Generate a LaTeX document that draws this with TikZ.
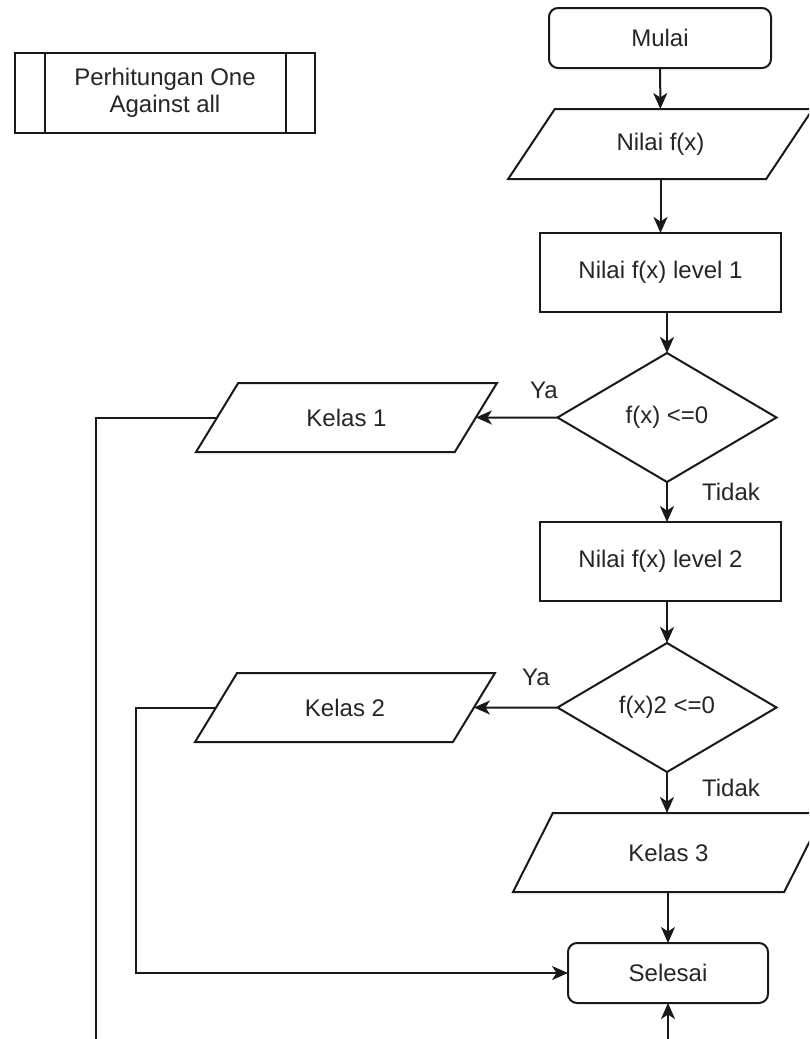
\documentclass[tikz,border=0pt]{standalone}
\usepackage{fontspec}
\setmainfont{Liberation Sans}
\usetikzlibrary{shapes.geometric,arrows.meta}
\begin{document}
\begin{tikzpicture}[x=1pt,y=-1pt,
  base/.style={draw=black!90, line width=2pt, font=\fontsize{24}{27}\selectfont,
    text=black!85, inner sep=0pt, outer sep=0pt},
  terminal/.style={base, rectangle, rounded corners=9pt, minimum height=60pt},
  procbox/.style={base, rectangle, minimum width=241pt, minimum height=79pt},
  iobox/.style={base, trapezium, trapezium stretches=true,
    trapezium left angle=#1, trapezium right angle=180-#1},
  decision/.style={base, diamond, aspect=1.7, minimum width=219pt, minimum height=129pt},
  flow/.style={draw=black!90, line width=2pt, -{Stealth[length=16pt,width=14pt,inset=4.5pt]}},
  link/.style={draw=black!90, line width=2pt},
  lbl/.style={font=\fontsize{24}{27}\selectfont, text=black!85, inner sep=0pt}
]
\useasboundingbox (0,0) rectangle (809,1039);
\fill[white] (0,0) rectangle (809,1039);
\clip (0,0) rectangle (809,1039);

% predefined process
\node[base, rectangle, minimum width=300pt, minimum height=80pt, align=center] (pp) at (165,93)
  {Perhitungan One\\Against all};
\draw[link] ([xshift=30pt]pp.north west) -- ([xshift=30pt]pp.south west);
\draw[link] ([xshift=-29pt]pp.north east) -- ([xshift=-29pt]pp.south east);

% main flow
\node[terminal, minimum width=222pt] (mulai) at (660,38) {Mulai};
\node[iobox=49, minimum width=305pt, minimum height=70pt] (nilai) at (660.5,144) {Nilai f(x)};
\node[procbox] (l1) at (660.5,272.5) {Nilai f(x) level 1};
\node[decision] (d1) at (667,417.5) {f(x) <=0};
\node[iobox=48.5, minimum width=301pt, minimum height=69pt] (k1) at (346.5,417.5) {Kelas 1};
\node[procbox] (l2) at (660.5,561.5) {Nilai f(x) level 2};
\node[decision] (d2) at (667,707.5) {f(x)2 <=0};
\node[iobox=48.5, minimum width=300pt, minimum height=69pt] (k2) at (345,707.5) {Kelas 2};
\node[iobox=52, minimum width=311pt, minimum height=79pt] (k3) at (668.5,852.5) {Kelas 3};
\node[terminal, minimum width=200pt] (selesai) at (668,973) {Selesai};

% branch labels
\node[lbl] (ya1) at (544,390) {Ya};
\node[lbl] (td1) at (731,492) {Tidak};
\node[lbl] (ya2) at (536,677) {Ya};
\node[lbl] (td2) at (731,788) {Tidak};

% free ends of the routed lines
\coordinate (k2turn) at (136,973);
\coordinate (k1end) at (96,1050);
\coordinate (sbot) at (668,1050);

% connectors
\draw[flow] (mulai) -- (nilai);
\draw[flow] (nilai) -- (l1);
\draw[flow] (l1.south -| d1.north) -- (d1.north);
\draw[flow] (d1.west) -- (k1.east);
\draw[flow] (d1.south) -- (l2.north -| d1.south);
\draw[flow] (l2.south -| d2.north) -- (d2.north);
\draw[flow] (d2.west) -- (k2.east);
\draw[flow] (d2.south) -- (k3.north -| d2.south);
\draw[flow] (k3.south -| selesai.north) -- (selesai.north);
\draw[flow] (k2.west) -| (k2turn) -- (selesai.west);
\draw[link] (k1.west) -| (k1end);
\draw[flow] (sbot) -- (selesai.south);
\end{tikzpicture}
\end{document}
